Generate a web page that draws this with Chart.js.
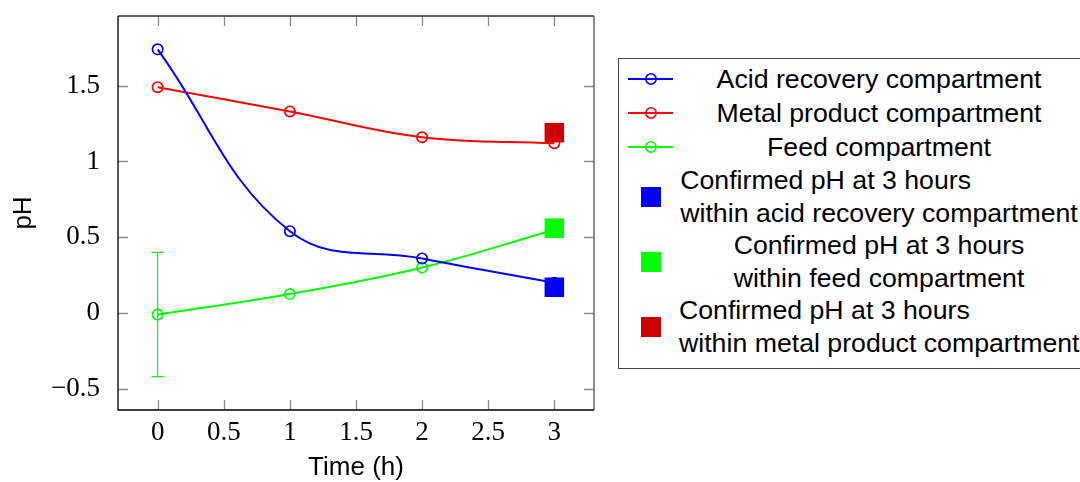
<!DOCTYPE html>
<html>
<head>
<meta charset="utf-8">
<script src="https://cdn.jsdelivr.net/npm/chart.js@4.4.1/dist/chart.umd.min.js"></script>
<style>
  html, body { margin:0; padding:0; background:#fff; overflow:hidden; width:1080px; height:482px; }
  #wrap { position:relative; width:1080px; height:482px; }
  canvas { position:absolute; left:0; top:0; }
  #legend { position:absolute; left:618px; top:58px; width:480px; border:1px solid #444; box-sizing:border-box;
            padding:3px 0 9px 0; font-family:"Liberation Sans", Arial, sans-serif; font-size:26.7px; color:#000; background:#fff; }
  .row { display:flex; align-items:center; }
  .sym { width:60px; flex:none; display:flex; align-items:center; }
  .txt { width:400px; flex:none; text-align:center; white-space:nowrap; }
  .txt span { display:inline-block; text-align:left; }
  .one { height:34px; line-height:34px; }
  .two { height:65px; line-height:32.5px; }
</style>
</head>
<body>
<div id="wrap">
  <canvas id="c" width="1080" height="482"></canvas>
  <div id="legend"></div>
</div>
<script>
// ---- data ----
const times = [0, 1, 2, 3];
const acidRecovery = [1.74, 0.54, 0.36, 0.20];
const metalProduct = [1.49, 1.33, 1.16, 1.12];
const feed = [-0.01, 0.125, 0.30, 0.55];
const feedError = [0.41, 0, 0, 0];
const confirmedTime = 3;
const confirmedAcid = 0.17;
const confirmedFeed = 0.56;
const confirmedMetal = 1.19;
const xTicks = [0, 0.5, 1, 1.5, 2, 2.5, 3];
const yTicks = [-0.5, 0, 0.5, 1, 1.5];
const seriesLabels = ["Acid recovery compartment", "Metal product compartment", "Feed compartment"];
const confirmedLabels = [
  ["Confirmed pH at 3 hours", "within acid recovery compartment"],
  ["Confirmed pH at 3 hours", "within feed compartment"],
  ["Confirmed pH at 3 hours", "within metal product compartment"]
];

const BLUE = '#0000ff', RED = '#ff0000', GREEN = '#00ff00', DARKRED = '#cc0000';

const pts = arr => times.map((t, i) => ({x: t, y: arr[i]}));
function lineDs(label, arr, color) {
  return { label, data: pts(arr), borderColor: color, backgroundColor: 'rgba(0,0,0,0)',
    borderWidth: 2, tension: 0.4, pointStyle: 'circle', pointRadius: 5.2, pointBorderWidth: 1.7,
    pointBackgroundColor: 'rgba(0,0,0,0)', pointBorderColor: color, showLine: true };
}
function sqDs(label, y, color) {
  return { label, data: [{x: confirmedTime, y}], showLine: false, pointStyle: 'rect',
    pointRadius: 13.8, pointBorderWidth: 0, backgroundColor: color, borderColor: color, pointBackgroundColor: color };
}

const fmt = v => (v < 0 ? '\u2212' + Math.abs(v) : String(v));

const framePlugin = {
  id: 'frame',
  beforeDatasetsDraw(chart) {
    const {ctx, chartArea: a, scales: {x, y}} = chart;
    ctx.save();
    ctx.strokeStyle = '#8a8a8a'; ctx.lineWidth = 1.3;
    const L = 10;
    xTicks.forEach(v => {
      const px = Math.round(x.getPixelForValue(v)) + 0.5;
      ctx.beginPath(); ctx.moveTo(px, a.bottom); ctx.lineTo(px, a.bottom - L);
      ctx.moveTo(px, a.top); ctx.lineTo(px, a.top + L); ctx.stroke();
    });
    yTicks.forEach(v => {
      const py = Math.round(y.getPixelForValue(v)) + 0.5;
      ctx.beginPath(); ctx.moveTo(a.left, py); ctx.lineTo(a.left + L, py);
      ctx.moveTo(a.right, py); ctx.lineTo(a.right - L, py); ctx.stroke();
    });
    ctx.lineWidth = 1.3;
    ctx.strokeStyle = '#333';
    ctx.beginPath(); ctx.moveTo(a.left, a.top); ctx.lineTo(a.right, a.top); ctx.stroke();
    ctx.strokeStyle = '#555';
    ctx.beginPath(); ctx.moveTo(a.right, a.top); ctx.lineTo(a.right, a.bottom); ctx.stroke();
    ctx.strokeStyle = '#000';
    ctx.beginPath(); ctx.moveTo(a.left, a.top); ctx.lineTo(a.left, a.bottom); ctx.lineTo(a.right, a.bottom); ctx.stroke();
    ctx.strokeStyle = GREEN; ctx.lineWidth = 1.2;
    times.forEach((t, i) => {
      const e = feedError[i];
      if (!e) return;
      const px = x.getPixelForValue(t);
      const y1 = y.getPixelForValue(feed[i] + e), y2 = y.getPixelForValue(feed[i] - e);
      ctx.beginPath();
      ctx.moveTo(px, y1); ctx.lineTo(px, y2);
      ctx.moveTo(px - 6, y1); ctx.lineTo(px + 6, y1);
      ctx.moveTo(px - 6, y2); ctx.lineTo(px + 6, y2);
      ctx.stroke();
    });
    ctx.restore();
  }
};

const tickFont = {family: '"Liberation Serif", "DejaVu Serif", serif', size: 27};
const titleFont = {family: '"Liberation Sans", Arial, sans-serif', size: 26};

new Chart(document.getElementById('c'), {
  type: 'line',
  data: {
    datasets: [
      lineDs(seriesLabels[0], acidRecovery, BLUE),
      lineDs(seriesLabels[1], metalProduct, RED),
      lineDs(seriesLabels[2], feed, GREEN),
      sqDs(confirmedLabels[0].join(' '), confirmedAcid, BLUE),
      sqDs(confirmedLabels[1].join(' '), confirmedFeed, GREEN),
      sqDs(confirmedLabels[2].join(' '), confirmedMetal, DARKRED)
    ]
  },
  options: {
    responsive: false, animation: false, devicePixelRatio: 1,
    layout: {padding: {left: 0, top: 16, right: 486, bottom: 0}},
    plugins: {legend: {display: false}, tooltip: {enabled: false}},
    scales: {
      x: {
        type: 'linear', min: -0.3, max: 3.3,
        afterBuildTicks: s => { s.ticks = xTicks.map(v => ({value: v})); },
        afterFit: s => { s.height = 72; s.paddingLeft = 0; s.paddingRight = 0; },
        grid: {display: false}, border: {display: false},
        ticks: {font: tickFont, color: '#000', padding: -1, maxRotation: 0, autoSkip: false, callback: v => fmt(v)},
        title: {display: true, text: 'Time (h)', font: titleFont, color: '#000', padding: {top: 0, bottom: -1}}
      },
      y: {
        type: 'linear', min: -0.64, max: 1.96,
        afterBuildTicks: s => { s.ticks = yTicks.map(v => ({value: v})); },
        afterFit: s => { s.width = 118; s.paddingTop = 0; s.paddingBottom = 0; },
        grid: {display: false}, border: {display: false},
        ticks: {font: tickFont, color: '#000', padding: 10, autoSkip: false, callback: v => fmt(v)},
        title: {display: true, text: 'pH', font: titleFont, color: '#000', padding: {top: 8, bottom: 0}}
      }
    }
  },
  plugins: [framePlugin]
});

// ---- HTML legend ----
const legend = document.getElementById('legend');
function lineSym(color) {
  return `<svg width="60" height="20"><line x1="9" y1="10" x2="54" y2="10" stroke="${color}" stroke-width="1.8"/>` +
         `<circle cx="32" cy="10" r="5.2" fill="none" stroke="${color}" stroke-width="1.6"/></svg>`;
}
function sqSym(color) {
  return `<svg width="60" height="22"><rect x="22" y="1" width="20" height="20" fill="${color}"/></svg>`;
}
[[seriesLabels[0], BLUE], [seriesLabels[1], RED], [seriesLabels[2], GREEN]].forEach(([t, c]) => {
  legend.insertAdjacentHTML('beforeend',
    `<div class="row one"><div class="sym">${lineSym(c)}</div><div class="txt"><span>${t}</span></div></div>`);
});
[[confirmedLabels[0], BLUE], [confirmedLabels[1], GREEN], [confirmedLabels[2], DARKRED]].forEach(([t, c]) => {
  legend.insertAdjacentHTML('beforeend',
    `<div class="row two"><div class="sym">${sqSym(c)}</div><div class="txt"><span>${t.join('<br>')}</span></div></div>`);
});
</script>
</body>
</html>
